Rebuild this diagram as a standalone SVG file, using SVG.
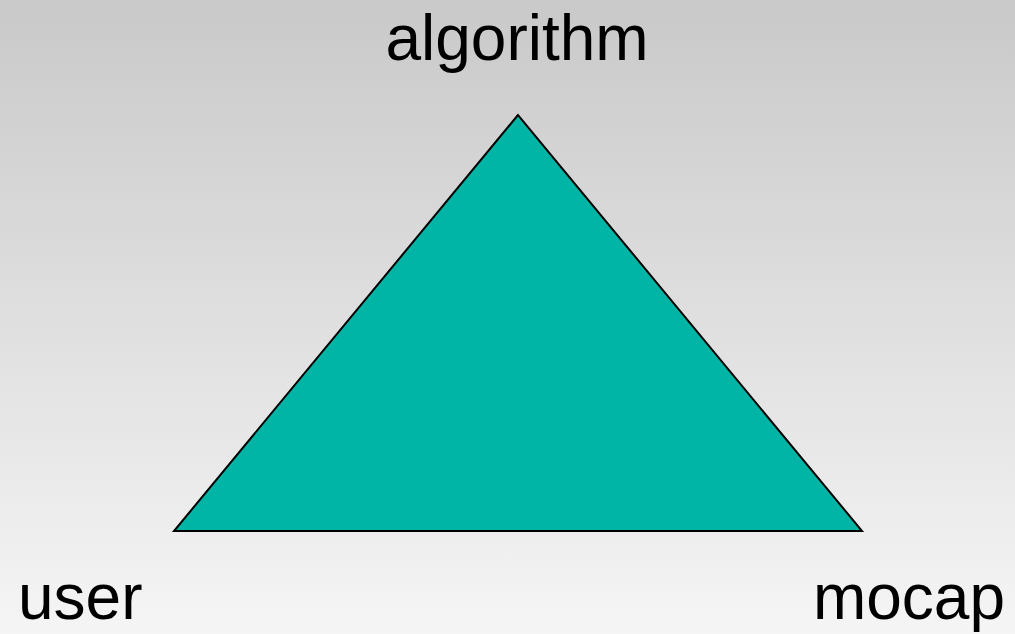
<svg xmlns="http://www.w3.org/2000/svg" width="1015" height="634" viewBox="0 0 1015 634">
<defs>
<linearGradient id="bg" x1="0" y1="0" x2="0" y2="1">
<stop offset="0" stop-color="#c9c9c9"/>
<stop offset="1" stop-color="#f5f5f5"/>
</linearGradient>
<style>
.lbl{font-family:"Liberation Sans",Arial,sans-serif;font-size:64px;fill:#000}
</style>
</defs>
<rect width="1015" height="634" fill="url(#bg)"/>
<g id="triangle">
<polygon points="518,115 174,531 862,531" fill="#00b5a5" stroke="#000" stroke-width="2" stroke-linejoin="miter"/>
</g>
<g id="algorithm"><text class="lbl" x="517" y="60" text-anchor="middle">algorithm</text></g>
<g id="user"><text class="lbl" x="18" y="619">user</text></g>
<g id="mocap"><text class="lbl" x="1005" y="619" text-anchor="end">mocap</text></g>
</svg>
